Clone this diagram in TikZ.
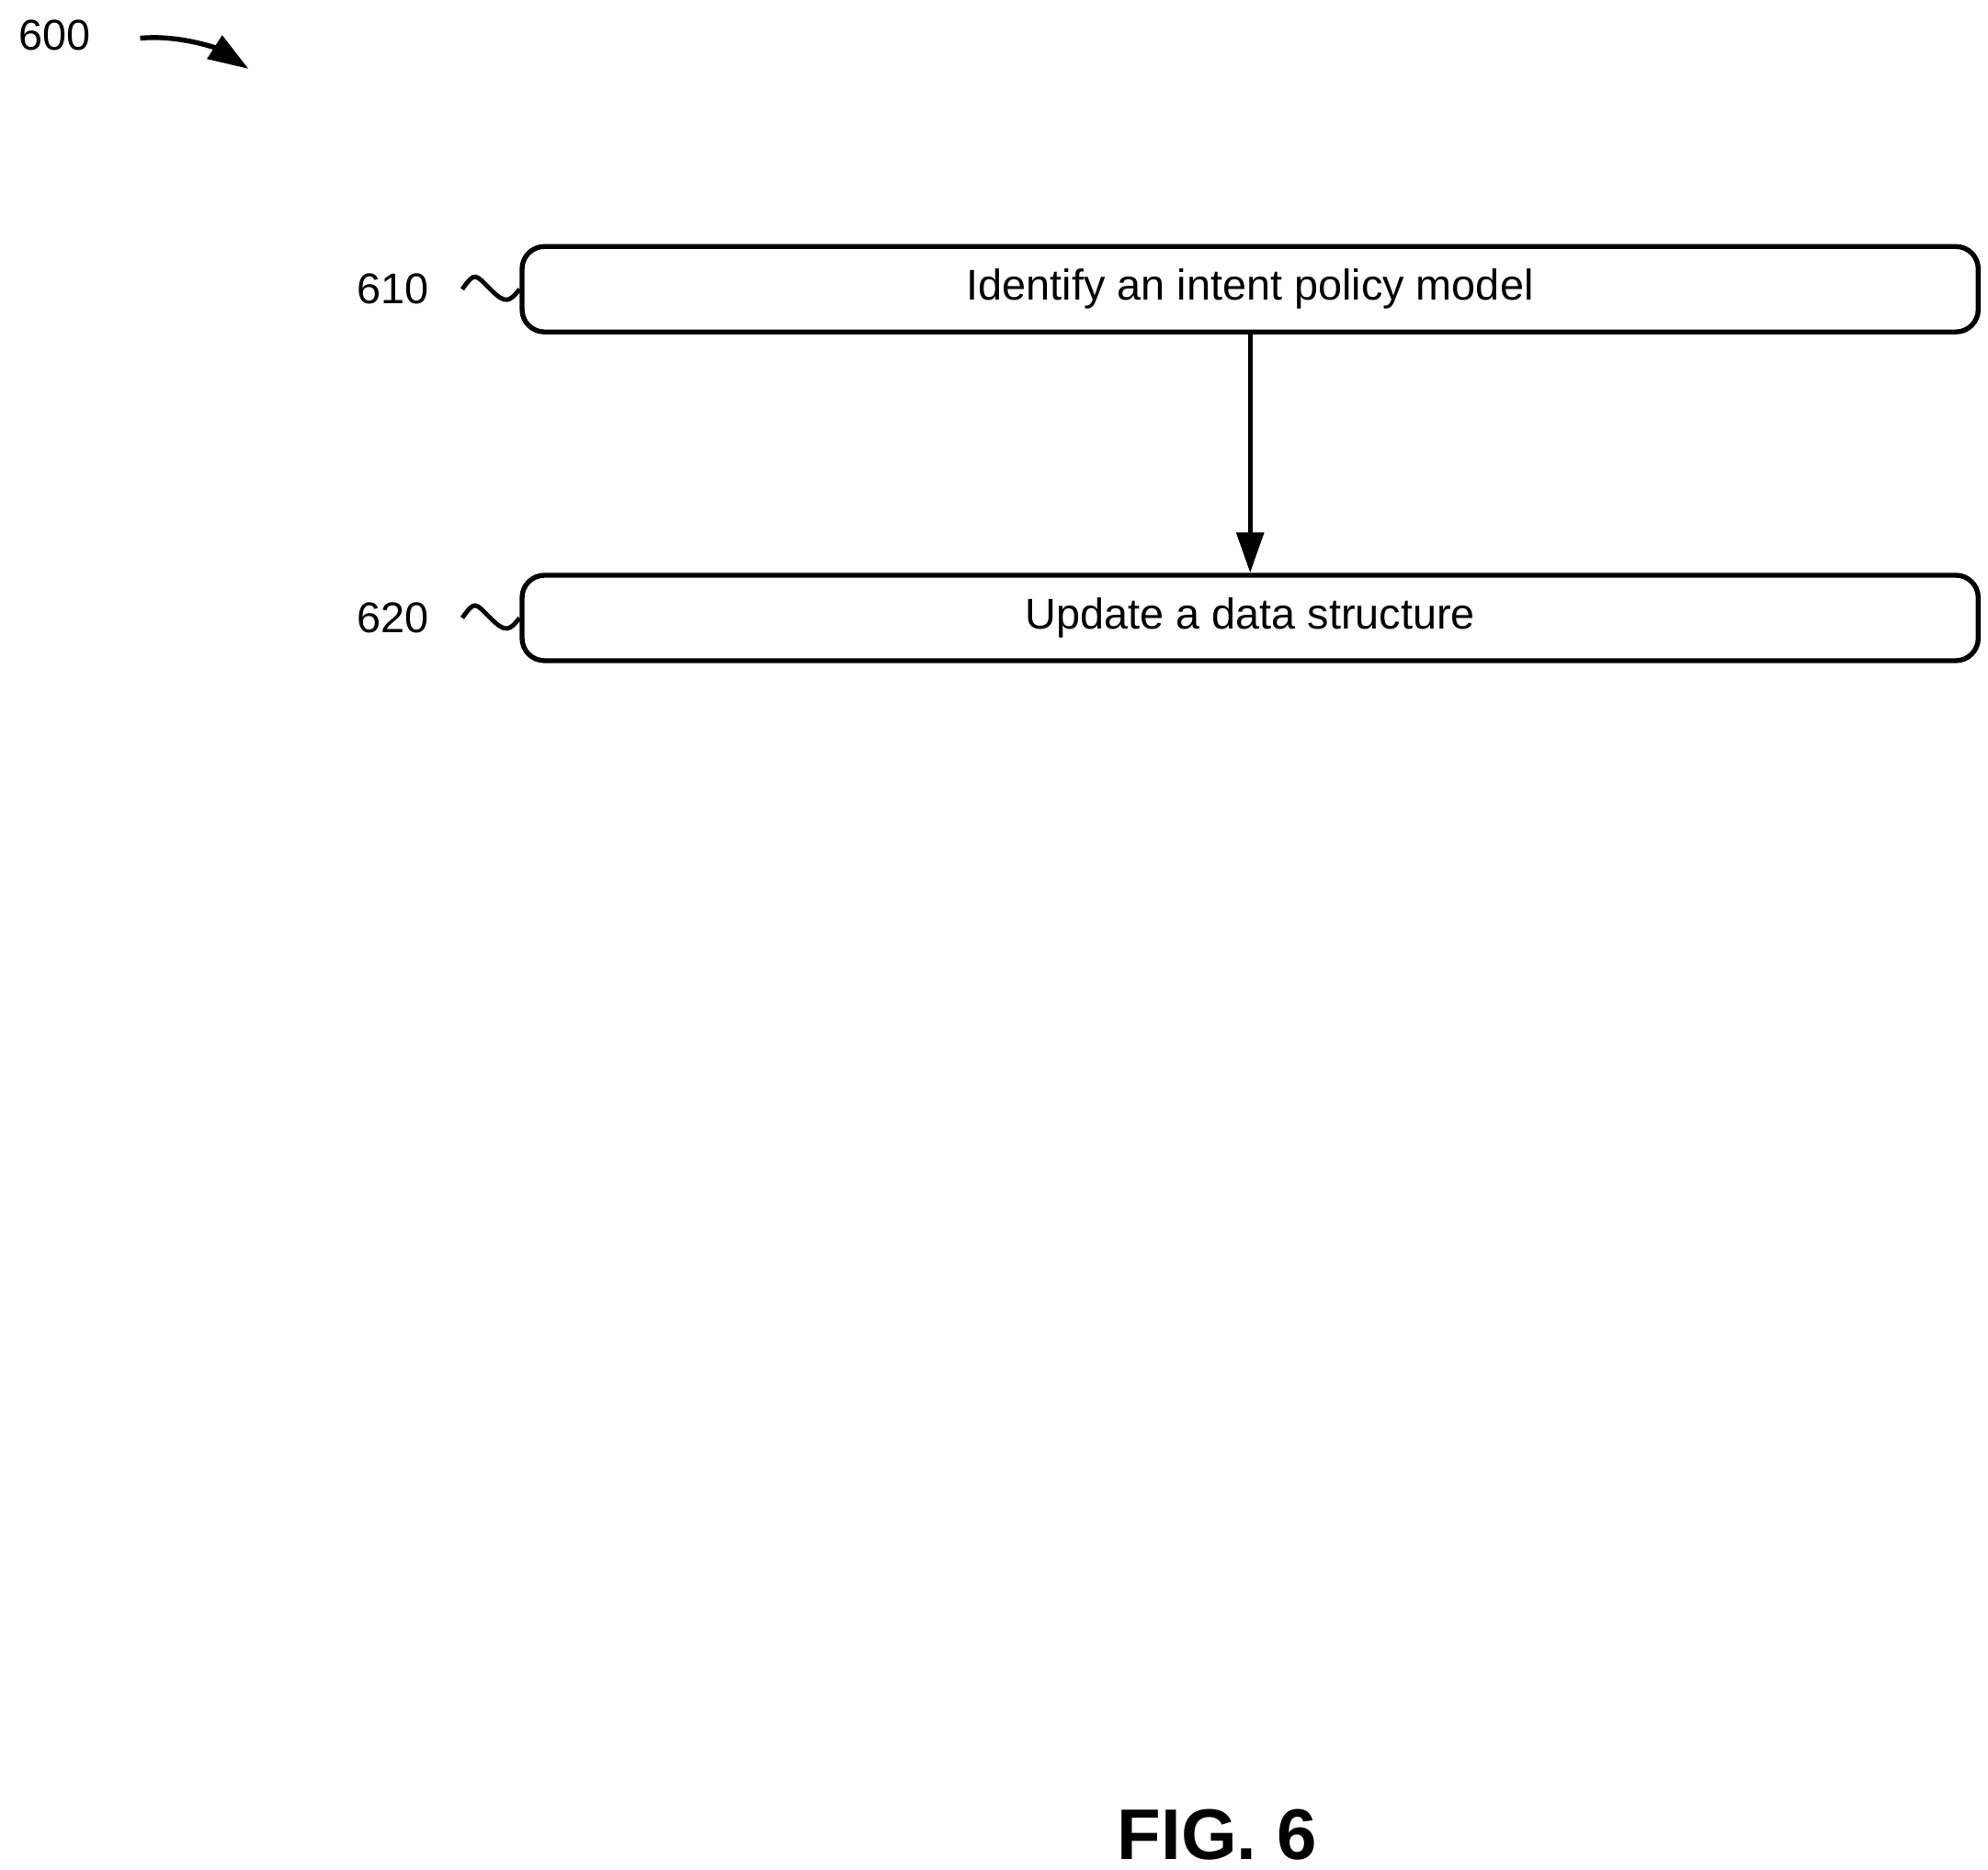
\documentclass[tikz,border=0pt]{standalone}
\usepackage{fontspec}
\setmainfont{Liberation Sans}
\usetikzlibrary{arrows.meta, positioning}

\begin{document}
\begin{tikzpicture}[x=0.01cm,y=-0.01cm,>={Triangle[length=9pt,width=6pt]},
  stepbox/.style={draw, line width=1.1pt, rounded corners=5pt, minimum width=11.42cm,
    minimum height=0.67cm, font=\fontsize{9.6}{11}\selectfont},
  ref/.style={font=\fontsize{9.6}{11}\selectfont}]
\useasboundingbox (0,0) rectangle (1560,1467);

% the figure number
  \node[ref] (n600) at (43,28) {600};
  \coordinate (a600) at (195,54);
  \draw[->, line width=1.1pt] (110,30) .. controls (140,27) and (170,38) .. (a600);

% define the steps
  \node[stepbox] (s610) at (981,227) {Identify an intent policy model};
  \node[stepbox] (s620) at (981,485) {Update a data structure};

% define the labels
  \node[ref] (l610) at (308,227) {610};
  \node[ref] (l620) at (308,485) {620};
  \foreach \s in {610,620}
    \draw[line width=1pt] (s\s.west) ++(-45,0) .. controls +(10,-14) and +(-12,-12) .. +(22,0)
      .. controls +(12,12) and +(-8,10) .. (s\s.west);

% define the links
  \draw[->, line width=1.1pt] (s610) -- (s620);

  \node[font=\fontsize{16}{18}\selectfont\bfseries] (fig) at (955,1440) {FIG. 6};
\end{tikzpicture}
\end{document}
